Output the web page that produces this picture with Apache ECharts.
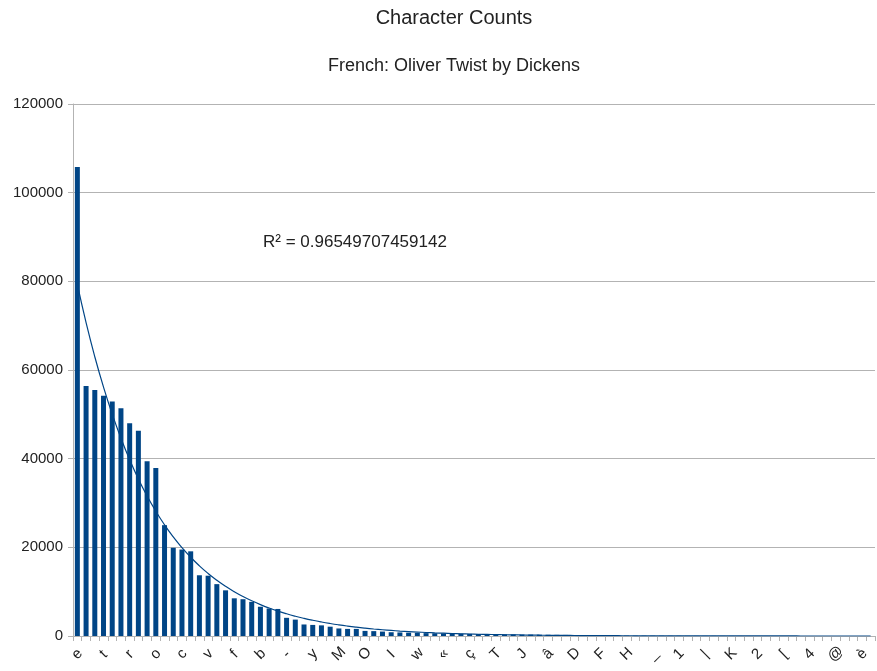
<!DOCTYPE html>
<html><head><meta charset="utf-8">
<script src="https://cdn.jsdelivr.net/npm/echarts@6/dist/echarts.min.js"></script>
<style>html,body{margin:0;padding:0;background:#fff}#c{width:877px;height:671px}</style>
</head><body><div id="c"></div>
<script>
const titleText = 'Character Counts';
const subtitleText = 'French: Oliver Twist by Dickens';
const rSquaredText = 'R² = 0.96549707459142';
const yTicks = [0, 20000, 40000, 60000, 80000, 100000, 120000];
const characters = ['e','s','a','t','i','n','r','u','l','o','d','m','c','p','é','v',',','q','f','h','g','b','.',"'",
  '-','x','j','y','à','ê','M','z',';','O','L','k','I','E','C','w','!','?','«','»','ù','ç','S','N','T','A','î','J',':',
  'P','â','û','B','D','ô','Q','F','R','G','H','V','ë','_','É','U','1','ï','W','|','0','Y','K','3','8','2','(',')',
  '[',']','5','4','6','X','@','9','7','è','*'];
const counts = [105800,56400,55500,54200,52900,51400,48000,46300,39400,37900,25000,19900,19500,19100,13700,13600,
  11700,10300,8500,8300,7700,6600,6200,6100,4100,3700,2600,2500,2400,2100,1700,1600,1600,1150,1100,1000,
  850,800,750,700,650,620,580,550,520,480,450,420,400,380,360,340,320,300,280,260,240,220,200,185,
  100,90,80,70,62,54,47,42,37,32,28,24,21,18,16,14,12,10,9,8,7,6,5,5,4,4,3,3,2,2,2,1];

// exponential trend line as the spreadsheet computes it: ln(y) = ln(a) + b*x, x = 1..N (least squares)
function expFit(vals){
  const n = vals.length; let sx=0, sy=0, sxx=0, sxy=0;
  vals.forEach((v,i)=>{const x=i+1, y=Math.log(v); sx+=x; sy+=y; sxx+=x*x; sxy+=x*y;});
  const b = (n*sxy - sx*sy)/(n*sxx - sx*sx);
  const la = (sy - b*sx)/n;
  return {a:Math.exp(la), b};
}
const fit = expFit(counts);
const trend = counts.map((_,i)=>fit.a*Math.exp(fit.b*(i+1)));

const chart = echarts.init(document.getElementById('c'));
const font = '"Liberation Sans", Arial, sans-serif';
chart.setOption({
  animation:false,
  title:[
    {text:titleText, left:449, textAlign:'center', top:3, textStyle:{fontFamily:font, fontSize:20, fontWeight:'normal', color:'#222'}},
    {text:subtitleText, left:449, textAlign:'center', top:52, textStyle:{fontFamily:font, fontSize:18, fontWeight:'normal', color:'#222'}}
  ],
  graphic:[
    {type:'text', left:263, top:234, style:{text:rSquaredText, font:'17px '+font, fill:'#222'}}
  ],
  grid:{left:73, right:2, top:104, bottom:35, containLabel:false},
  xAxis:{type:'category', data:characters, boundaryGap:true,
    axisLine:{lineStyle:{color:'#b3b3b3'}},
    axisTick:{show:true, interval:0, length:5, lineStyle:{color:'#b3b3b3'}},
    axisLabel:{interval:2, rotate:45, align:'center', verticalAlign:'middle', fontFamily:font, fontSize:15, color:'#222', margin:18}
  },
  yAxis:{type:'value', min:yTicks[0], max:yTicks[yTicks.length-1], interval:20000,
    axisLine:{show:true, lineStyle:{color:'#b3b3b3'}},
    axisTick:{show:true, length:5, lineStyle:{color:'#b3b3b3'}},
    axisLabel:{fontFamily:font, fontSize:15, color:'#222', margin:10, formatter:v=>String(v)},
    splitLine:{lineStyle:{color:'#b3b3b3'}}
  },
  series:[
    {type:'bar', data:counts, barWidth:5, itemStyle:{color:'#004586'}},
    {type:'line', data:trend, showSymbol:false, smooth:true, lineStyle:{color:'#004586', width:1.2}, z:3}
  ]
});
</script></body></html>
